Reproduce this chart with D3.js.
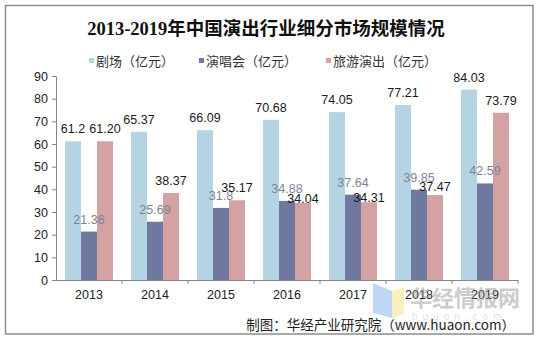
<!DOCTYPE html>
<html>
<head>
<meta charset="utf-8">
<script src="https://cdn.jsdelivr.net/npm/d3@7"></script>
<style>
  body { margin: 0; background: #fff; }
  svg { display: block; }
</style>
</head>
<body>
<div id="chart"></div>
<script>
const years = ["2013", "2014", "2015", "2016", "2017", "2018", "2019"];
const seriesNames = ["剧场（亿元）", "演唱会（亿元）", "旅游演出（亿元）"];
const juchang = [61.2, 65.37, 66.09, 70.68, 74.05, 77.21, 84.03];
const yanchanghui = [21.36, 25.69, 31.8, 34.88, 37.64, 39.85, 42.59];
const lvyou = [61.2, 38.37, 35.17, 34.04, 34.31, 37.47, 73.79];
// etiquetas tal cual aparecen en la imagen
const juchangLabels = ["61.2", "65.37", "66.09", "70.68", "74.05", "77.21", "84.03"];
const yanchanghuiLabels = ["21.36", "25.69", "31.8", "34.88", "37.64", "39.85", "42.59"];
const lvyouLabels = ["61.20", "38.37", "35.17", "34.04", "34.31", "37.47", "73.79"];
const yTicks = [0, 10, 20, 30, 40, 50, 60, 70, 80, 90];

const colores = ["#b5d4e3", "#6f789f", "#d5a2a4"];
const labelColores = ["#1a1a1a", "#7d8296", "#1a1a1a"];
// desplazamiento vertical de algunas etiquetas (movidas a mano en el original)
const ajusteLvyou = [0, 0, 0, 8, 8, 4, 0];

function graficar() {
    const width = 538, height = 340;
    const margin = { top: 76, right: 20, bottom: 60, left: 56 };
    const innerW = 518 - margin.left;
    const innerH = 280 - margin.top;

    const svg = d3.select("#chart")
        .append("svg")
        .attr("width", width)
        .attr("height", height);

    // marco exterior
    svg.append("rect")
        .attr("x", 5.5).attr("y", 5.5)
        .attr("width", 527.5).attr("height", 328.5)
        .attr("fill", "#fff")
        .attr("stroke", "#8c8c8c")
        .attr("stroke-width", 1.5);

    // titulo
    svg.append("text")
        .attr("x", 266)
        .attr("y", 35)
        .attr("text-anchor", "middle")
        .attr("font-family", "'Liberation Serif', 'Noto Sans CJK SC', serif")
        .attr("font-weight", "bold")
        .attr("font-size", "18.5px")
        .attr("fill", "#111")
        .text("2013-2019年中国演出行业细分市场规模情况");

    // leyenda
    const legendX = [89, 199, 326];
    const legend = svg.append("g");
    seriesNames.forEach((name, i) => {
        legend.append("rect")
            .attr("x", legendX[i]).attr("y", 58)
            .attr("width", 5).attr("height", 5)
            .attr("fill", colores[i]);
        legend.append("text")
            .attr("x", legendX[i] + 7)
            .attr("y", 66)
            .attr("font-family", "'Noto Sans CJK SC', sans-serif")
            .attr("font-size", "13px")
            .attr("fill", "#333")
            .text(name);
    });

    const g = svg.append("g")
        .attr("transform", `translate(${margin.left},${margin.top})`);

    const xScale = d3.scaleBand()
        .domain(years)
        .range([0, innerW])
        .paddingInner(0)
        .paddingOuter(0);

    const xSub = d3.scaleBand()
        .domain([0, 1, 2])
        .range([9, xScale.bandwidth() - 9]);

    const yScale = d3.scaleLinear()
        .domain([0, 90])
        .range([innerH, 0]);

    const series = [
        { valores: juchang, etiquetas: juchangLabels, ajuste: null },
        { valores: yanchanghui, etiquetas: yanchanghuiLabels, ajuste: null },
        { valores: lvyou, etiquetas: lvyouLabels, ajuste: ajusteLvyou }
    ];

    // barras
    series.forEach((s, k) => {
        g.selectAll(`.bar${k}`)
            .data(s.valores)
            .enter()
            .append("rect")
            .attr("x", (d, i) => xScale(years[i]) + xSub(k))
            .attr("y", d => yScale(d))
            .attr("width", xSub.bandwidth())
            .attr("height", d => innerH - yScale(d))
            .attr("fill", colores[k]);
    });

    // etiquetas de datos
    series.forEach((s, k) => {
        g.selectAll(`.lbl${k}`)
            .data(s.valores)
            .enter()
            .append("text")
            .text((d, i) => s.etiquetas[i])
            .attr("x", (d, i) => xScale(years[i]) + xSub(k) + xSub.bandwidth() / 2)
            .attr("y", (d, i) => yScale(d) - 8 + (s.ajuste ? s.ajuste[i] : 0))
            .attr("text-anchor", "middle")
            .attr("fill", labelColores[k])
            .attr("font-family", "'Liberation Sans', Arial, sans-serif")
            .style("font-size", "12.5px");
    });

    // eje Y
    const yAxis = g.append("g")
        .call(d3.axisLeft(yScale).tickValues(yTicks).tickSize(4).tickPadding(4).tickSizeOuter(0));
    yAxis.selectAll("text")
        .attr("fill", "#222")
        .attr("font-family", "'Liberation Sans', Arial, sans-serif")
        .style("font-size", "12.5px");
    yAxis.selectAll("line, path").attr("stroke", "#858585");

    // eje X con marcas entre categorias
    const xAxis = g.append("g")
        .attr("transform", `translate(0,${innerH})`)
        .call(d3.axisBottom(xScale).tickSize(0).tickPadding(10).tickSizeOuter(0));
    xAxis.selectAll("text")
        .attr("fill", "#222")
        .attr("font-family", "'Liberation Sans', Arial, sans-serif")
        .style("font-size", "12.5px");
    xAxis.select("path").attr("stroke", "#858585");
    xAxis.selectAll(".sep")
        .data(years)
        .enter()
        .append("line")
        .attr("x1", d => xScale(d) + xScale.bandwidth())
        .attr("x2", d => xScale(d) + xScale.bandwidth())
        .attr("y1", 0).attr("y2", 4)
        .attr("stroke", "#858585");

    // marca de agua
    const wm = svg.append("g").attr("opacity", 0.5);
    wm.append("path")
        .attr("d", "M373,283 L392,291 L392,318 L373,313 Z")
        .attr("fill", "#7fb0ea");
    wm.append("path")
        .attr("d", "M392,291 L404,288 L404,314 L392,318 Z")
        .attr("fill", "#f7e27a");
    wm.append("text")
        .attr("x", 410).attr("y", 306)
        .attr("font-family", "'Noto Sans CJK SC', sans-serif")
        .attr("font-weight", "bold")
        .attr("font-size", "22px")
        .attr("fill", "#9a9a9a")
        .text("华经情报网");
    wm.append("text")
        .attr("x", 412).attr("y", 320)
        .attr("font-family", "'Liberation Sans', Arial, sans-serif")
        .attr("font-size", "10px")
        .attr("letter-spacing", "5px")
        .attr("fill", "#c8c8c8")
        .text("huaon.com");

    // fuente
    svg.append("text")
        .attr("x", 515)
        .attr("y", 330)
        .attr("text-anchor", "end")
        .attr("font-family", "'Noto Sans CJK SC', sans-serif")
        .attr("font-size", "13.5px")
        .attr("fill", "#222")
        .text("制图：华经产业研究院（www.huaon.com）");
}

graficar();
</script>
</body>
</html>
